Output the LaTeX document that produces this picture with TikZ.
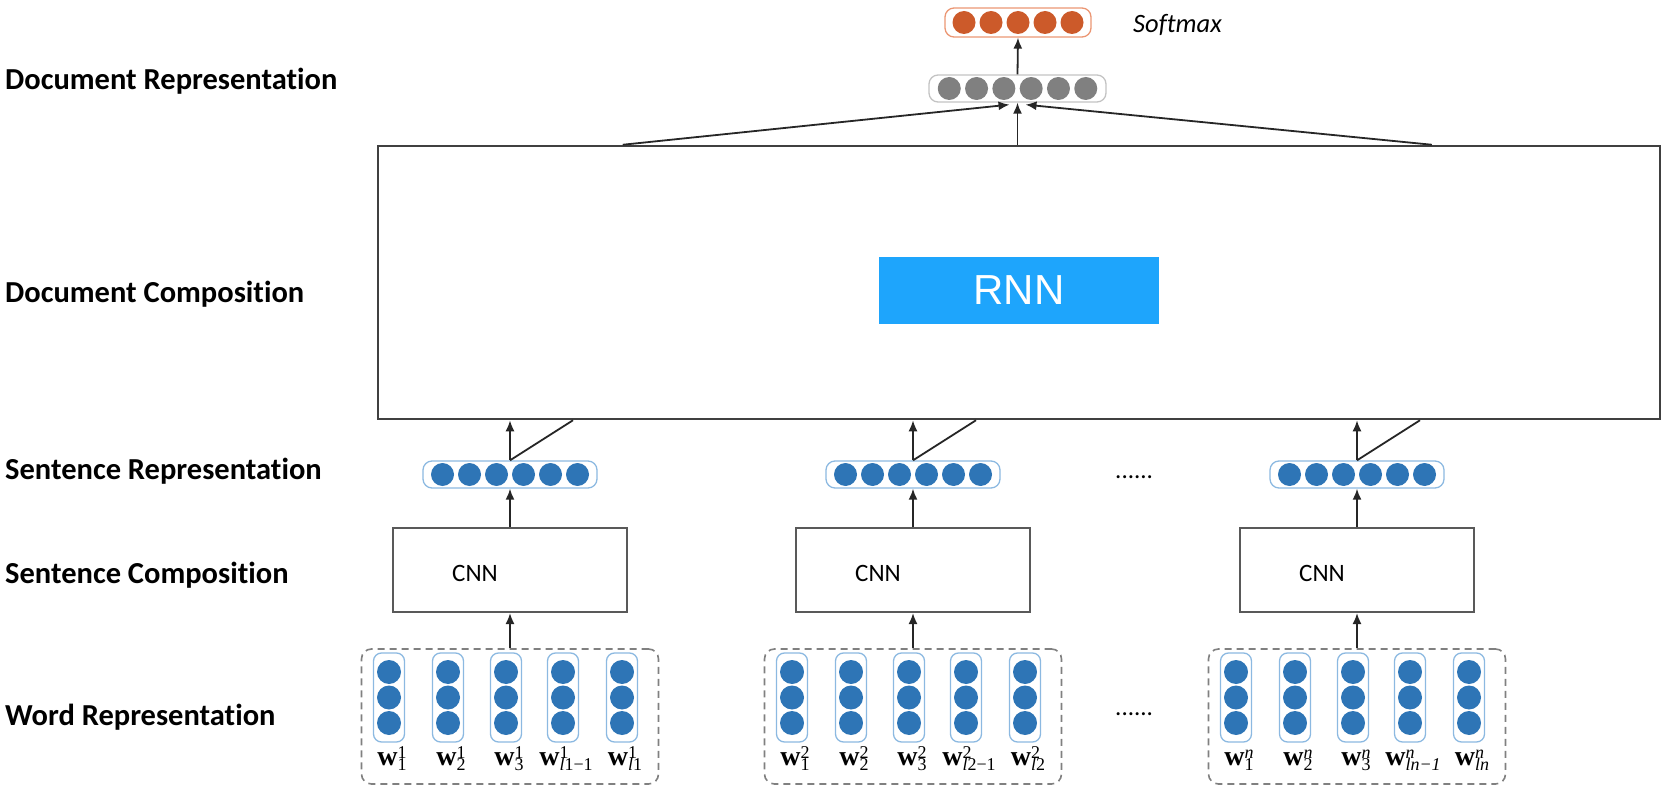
\documentclass[tikz,border=0pt]{standalone}
\usepackage{fontspec}
\setmainfont{Carlito}[Ligatures=NoCommon]
\newfontfamily\rnnfont{Liberation Sans}
\newfontfamily\wfont{Liberation Serif}
\usetikzlibrary{arrows.meta,calc}

\definecolor{cblue}{RGB}{46,117,182}
\definecolor{cblueb}{RGB}{140,185,225}
\definecolor{cgray}{RGB}{128,128,128}
\definecolor{cgrayb}{RGB}{195,195,195}
\definecolor{corange}{RGB}{204,90,42}
\definecolor{corangeb}{RGB}{235,150,115}
\definecolor{rnnblue}{RGB}{30,165,252}
\definecolor{lineg}{RGB}{64,64,64}

\newcommand{\wlabel}[2]{{\wfont\fontsize{28}{30}\selectfont\bfseries w}\makebox[0pt][l]{\raisebox{7pt}{\wfont\fontsize{18}{20}\selectfont #1}}\raisebox{-5pt}{\wfont\fontsize{18}{20}\selectfont #2}}

\begin{document}
\begin{tikzpicture}[x=1pt,y=-1pt,
  lbl/.style={anchor=base west, font=\bfseries\fontsize{30.5}{34}\selectfont, inner sep=0},
  arr/.style={draw=black!85, line width=1.8pt, -{Latex[length=11pt,width=9pt]}},
  ln/.style={draw=black!85, line width=1.8pt},
  vframe/.style={draw=#1, line width=1.3pt, rounded corners=9pt, inner sep=0},
  dot/.style={circle, fill=#1, inner sep=0, minimum size=23pt},
  cnnbox/.style={draw=black!65, line width=2pt, minimum width=234pt, minimum height=84pt, inner sep=0},
  wordbox/.style={draw=black!50, dash pattern=on 7pt off 5pt, line width=1.6pt, rounded corners=10pt, minimum width=297pt, minimum height=135pt, inner sep=0},
  wlab/.style={anchor=base, inner sep=0},
  plain/.style={anchor=base west, inner sep=0}
]
\useasboundingbox (0,0) rectangle (1666,794);

% left labels
\node[lbl] (l1) at (5,90) {Document Representation};
\node[lbl] (l2) at (5,303) {Document Composition};
\node[lbl] (l3) at (5,479) {Sentence Representation};
\node[lbl] (l4) at (5,583) {Sentence Composition};
\node[lbl] (l5) at (5,725) {Word Representation};

% document composition box
\node[draw=lineg, line width=2.5pt, minimum width=1282pt, minimum height=273pt, inner sep=0] (doc) at (1019,282.5) {};
\node[fill=rnnblue, minimum width=280pt, minimum height=67pt, inner sep=0, text=white, font=\rnnfont\fontsize{42}{48}\selectfont] (rnn) at (1019,290.5) {RNN};

% document representation vector
\node[vframe=cgrayb, minimum width=177pt, minimum height=27pt] (dr) at (1017.5,88.5) {};
\foreach \k in {0,...,5} \node[dot=cgray] (drc\k) at (949.25+27.3*\k,88.5) {};

% softmax vector
\node[vframe=corangeb, minimum width=146pt, minimum height=29pt] (sm) at (1018,22.5) {};
\foreach \k in {0,...,4} \node[dot=corange] (smc\k) at (964+27*\k,22.5) {};
\node[plain, font=\itshape\fontsize{26.5}{30}\selectfont] (smlab) at (1133,33) {Softmax};

\draw[arr] (dr.north) -- (sm.south);
\coordinate (tl) at ([xshift=246pt]doc.north west);
\coordinate (tr) at ([xshift=1055pt]doc.north west);
\draw[arr] (tl) -- ([xshift=-8pt,yshift=-2pt]dr.south);
\draw[arr] (tr) -- ([xshift=8pt,yshift=-2pt]dr.south);
\draw[arr] (dr.south |- doc.north) -- (dr.south);

% sentence groups
\foreach \g/\cx/\s in {1/510/1, 2/913/2, 3/1357/{\itshape n}} {
  \node[wordbox] (wr\g) at (\cx,716.5) {};
  \node[cnnbox] (cnn\g) at (\cx,570) {};
  \node[plain, font=\fontsize{25}{30}\selectfont] (cnnl\g) at (\cx-58,581) {CNN};
  \node[vframe=cblueb, minimum width=174pt, minimum height=27pt] (sv\g) at (\cx,474.5) {};
  \foreach \k in {0,...,5} \node[dot=cblue] (sv\g c\k) at (\cx-67.5+27*\k,474.5) {};
  \foreach \j/\dx/\sub in {1/-121/1, 2/-62/2, 3/-4/3, 4/53/{{\itshape l}\s−1}, 5/112/{{\itshape l}\s}} {
    \node[vframe=cblueb, minimum width=31pt, minimum height=89pt, rounded corners=8pt] (w\g-\j) at (\cx+\dx,697.5) {};
    \foreach \m/\yy in {1/672,2/697.5,3/723} \node[dot=cblue, minimum size=24pt] (w\g-\j-\m) at (\cx+\dx,\yy) {};
    \node[wlab] (wl\g-\j) at (\cx+\dx+3,765) {\wlabel{\s}{\sub}};
  }
  \draw[arr] (wr\g.north) -- (cnn\g.south);
  \draw[arr] (cnn\g.north) -- (sv\g.south);
  \draw[arr] (sv\g.north) -- (sv\g.north |- doc.south);
  \draw[ln] (sv\g.north) -- ([xshift=63pt]sv\g.north |- doc.south);
}

% ellipses
\node[plain, font=\fontsize{25}{30}\selectfont] (dots1) at (1115,478.5) {......};
\node[plain, font=\fontsize{25}{30}\selectfont] (dots2) at (1115,715.5) {......};
\end{tikzpicture}
\end{document}
